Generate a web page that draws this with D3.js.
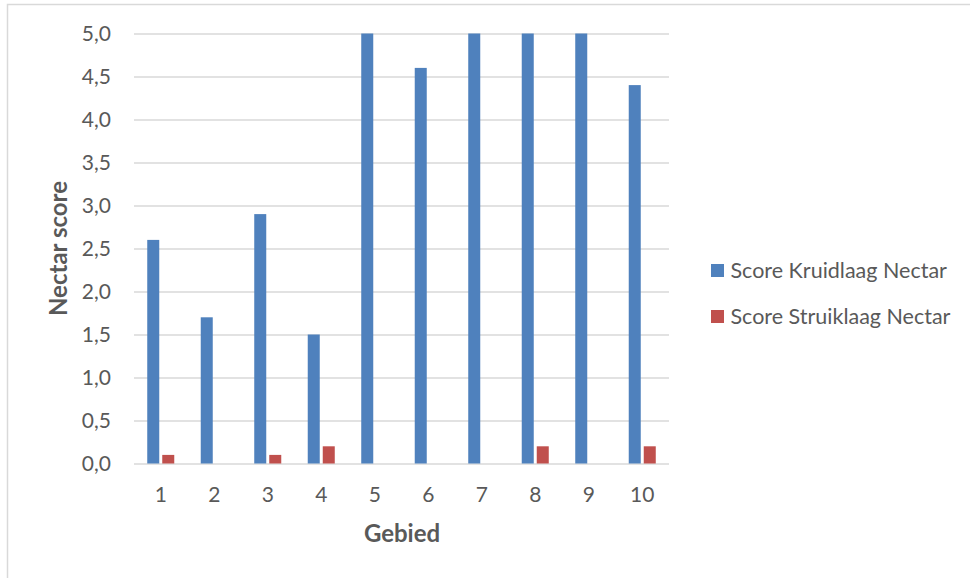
<!DOCTYPE html>
<html>
<head>
<meta charset="utf-8">
<script src="https://cdn.jsdelivr.net/npm/d3@7"></script>
<style>
  html, body { margin: 0; padding: 0; background: #fff; }
  svg { display: block; }
  text { font-family: Lato, "Open Sans", sans-serif; fill: #595959; }
</style>
</head>
<body>
<svg id="chart" width="970" height="578"></svg>
<script>
// Nectar scores per area (gebied), herb layer vs shrub layer
const categories = ["1", "2", "3", "4", "5", "6", "7", "8", "9", "10"];
const seriesNames = ["Score Kruidlaag Nectar", "Score Struiklaag Nectar"];
const kruidlaag = [2.6, 1.7, 2.9, 1.5, 5.0, 4.6, 5.0, 5.0, 5.0, 4.4];
const struiklaag = [0.1, 0.0, 0.1, 0.2, 0.0, 0.0, 0.0, 0.2, 0.0, 0.2];
const yTicks = [0, 0.5, 1, 1.5, 2, 2.5, 3, 3.5, 4, 4.5, 5];
const colors = ["#4F81BD", "#C0504D"];

const seriesValues = [kruidlaag, struiklaag];
const rows = categories.map((c, i) => ({
  cat: c,
  values: seriesNames.map((s, j) => ({ series: s, value: seriesValues[j][i] }))
}));

const svg = d3.select("#chart");

// outer chart frame (only top and left edges fall inside the view)
svg.append("path")
  .attr("d", "M7.5,578 L7.5,4.5 L970,4.5")
  .attr("fill", "none")
  .attr("stroke", "#D9D9D9")
  .attr("stroke-width", 1.5);

const plot = { left: 134, right: 669, top: 33.5, bottom: 463.5 };

const x0 = d3.scaleBand()
  .domain(categories)
  .range([plot.left, plot.right])
  .paddingInner(0.495)
  .paddingOuter(0.2475);

const x1 = d3.scaleBand()
  .domain(seriesNames)
  .range([0, x0.bandwidth()])
  .paddingInner(0.2);

const y = d3.scaleLinear()
  .domain([0, 5])
  .range([plot.bottom, plot.top]);

const color = d3.scaleOrdinal().domain(seriesNames).range(colors);
const fmt = v => d3.format(".1f")(v).replace(".", ",");

// horizontal gridlines + y tick labels
const yAxis = svg.append("g")
  .attr("transform", `translate(${plot.left},0)`)
  .call(d3.axisLeft(y)
    .tickValues(yTicks)
    .tickFormat(fmt)
    .tickSize(-(plot.right - plot.left))
    .tickPadding(23));
yAxis.select(".domain").remove();
yAxis.selectAll(".tick line")
  .attr("stroke", "#D9D9D9")
  .attr("stroke-width", 1.5);
yAxis.selectAll(".tick text")
  .style("font-family", "Lato, sans-serif")
  .style("font-size", "21px")
  .attr("fill", "#595959");

// bars
const groups = svg.append("g").selectAll("g")
  .data(rows)
  .join("g")
  .attr("transform", d => `translate(${x0(d.cat)},0)`);

groups.selectAll("rect")
  .data(d => d.values)
  .join("rect")
  .attr("x", d => x1(d.series))
  .attr("width", x1.bandwidth())
  .attr("y", d => y(d.value))
  .attr("height", d => y(0) - y(d.value))
  .attr("fill", d => color(d.series));

// x tick labels
const xAxis = svg.append("g")
  .attr("transform", `translate(0,${plot.bottom})`)
  .call(d3.axisBottom(x0).tickSize(0).tickPadding(24));
xAxis.select(".domain").remove();
xAxis.selectAll(".tick text")
  .style("font-family", "Lato, sans-serif")
  .style("font-size", "21px")
  .attr("fill", "#595959");

// axis titles
svg.append("text")
  .attr("x", (plot.left + plot.right) / 2 + 0.5)
  .attr("y", 542)
  .attr("text-anchor", "middle")
  .style("font-size", "24px")
  .style("font-weight", "bold")
  .text("Gebied");

svg.append("text")
  .attr("transform", `translate(67,${(plot.top + plot.bottom) / 2}) rotate(-90)`)
  .attr("text-anchor", "middle")
  .style("font-size", "24px")
  .style("font-weight", "bold")
  .text("Nectar score");

// legend
const legend = svg.append("g")
  .attr("transform", "translate(711,264)")
  .selectAll("g")
  .data(seriesNames)
  .join("g")
  .attr("transform", (d, i) => `translate(0,${i * 46})`);

legend.append("rect")
  .attr("width", 13)
  .attr("height", 13)
  .attr("fill", d => color(d));

legend.append("text")
  .attr("x", 19.5)
  .attr("y", 13.5)
  .style("font-size", "21.5px")
  .text(d => d);
</script>
</body>
</html>
